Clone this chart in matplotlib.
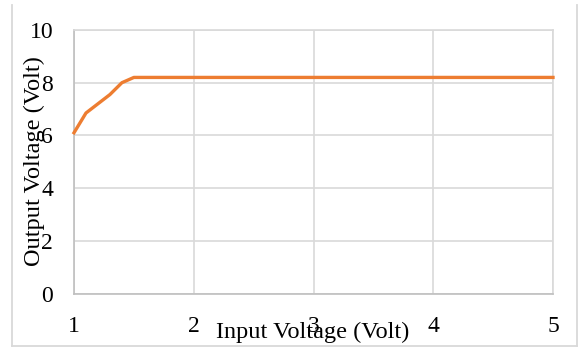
import matplotlib
matplotlib.use("Agg")
import matplotlib.pyplot as plt
from matplotlib.lines import Line2D

input_voltage = [1.0, 1.1, 1.2, 1.3, 1.4, 1.5, 2.0, 2.5, 3.0, 3.5, 4.0, 4.5, 5.0]
output_voltage = [6.1, 6.85, 7.2, 7.55, 8.0, 8.2, 8.2, 8.2, 8.2, 8.2, 8.2, 8.2, 8.2]
x_ticks = [1, 2, 3, 4, 5]
y_ticks = [0, 2, 4, 6, 8, 10]

plt.rcParams['font.family'] = ['Liberation Serif', 'DejaVu Serif']

W, H = 581, 349
fig = plt.figure(figsize=(W / 100, H / 100), dpi=100)
ax = fig.add_axes([74 / W, 1 - 293.5 / H, (553 - 74) / W, (293.5 - 30) / H])

ax.plot(input_voltage, output_voltage, color='#ED7D31', linewidth=2.4,
        solid_joinstyle='round', zorder=3, clip_on=False)
ax.set_xlim(1, 5)
ax.set_ylim(0, 10)
ax.set_xticks(x_ticks)
ax.set_yticks(y_ticks)
ax.set_xticklabels([str(v) for v in x_ticks], fontsize=17)
ax.set_yticklabels([str(v) for v in y_ticks], fontsize=17)
ax.tick_params(axis='both', length=0)
ax.tick_params(axis='x', pad=16)
ax.tick_params(axis='y', pad=15)
ax.grid(True, color='#d9d9d9', linewidth=1.2)
ax.set_axisbelow(True)
for s in ['top', 'right']:
    ax.spines[s].set_color('#d9d9d9')
    ax.spines[s].set_linewidth(1.2)
for s in ['left', 'bottom']:
    ax.spines[s].set_color('#bfbfbf')
    ax.spines[s].set_linewidth(1.2)

fig.text(313 / W, 1 - 332 / H, 'Input Voltage (Volt)', fontsize=17.5,
         ha='center', va='center')
fig.text(34 / W, 1 - 161.5 / H, 'Output Voltage (Volt)', fontsize=17.5,
         ha='center', va='center', rotation=90)

# outer chart border (left, bottom, right)
bc = '#d9d9d9'
fig.add_artist(Line2D([12 / W, 12 / W], [1 - 5 / H, 1 - 346 / H], color=bc, lw=1.3, transform=fig.transFigure))
fig.add_artist(Line2D([12 / W, 577 / W], [1 - 346 / H, 1 - 346 / H], color=bc, lw=1.3, transform=fig.transFigure))
fig.add_artist(Line2D([577 / W, 577 / W], [1 - 5 / H, 1 - 346 / H], color=bc, lw=1.3, transform=fig.transFigure))

fig.savefig('out.png', dpi=100)
